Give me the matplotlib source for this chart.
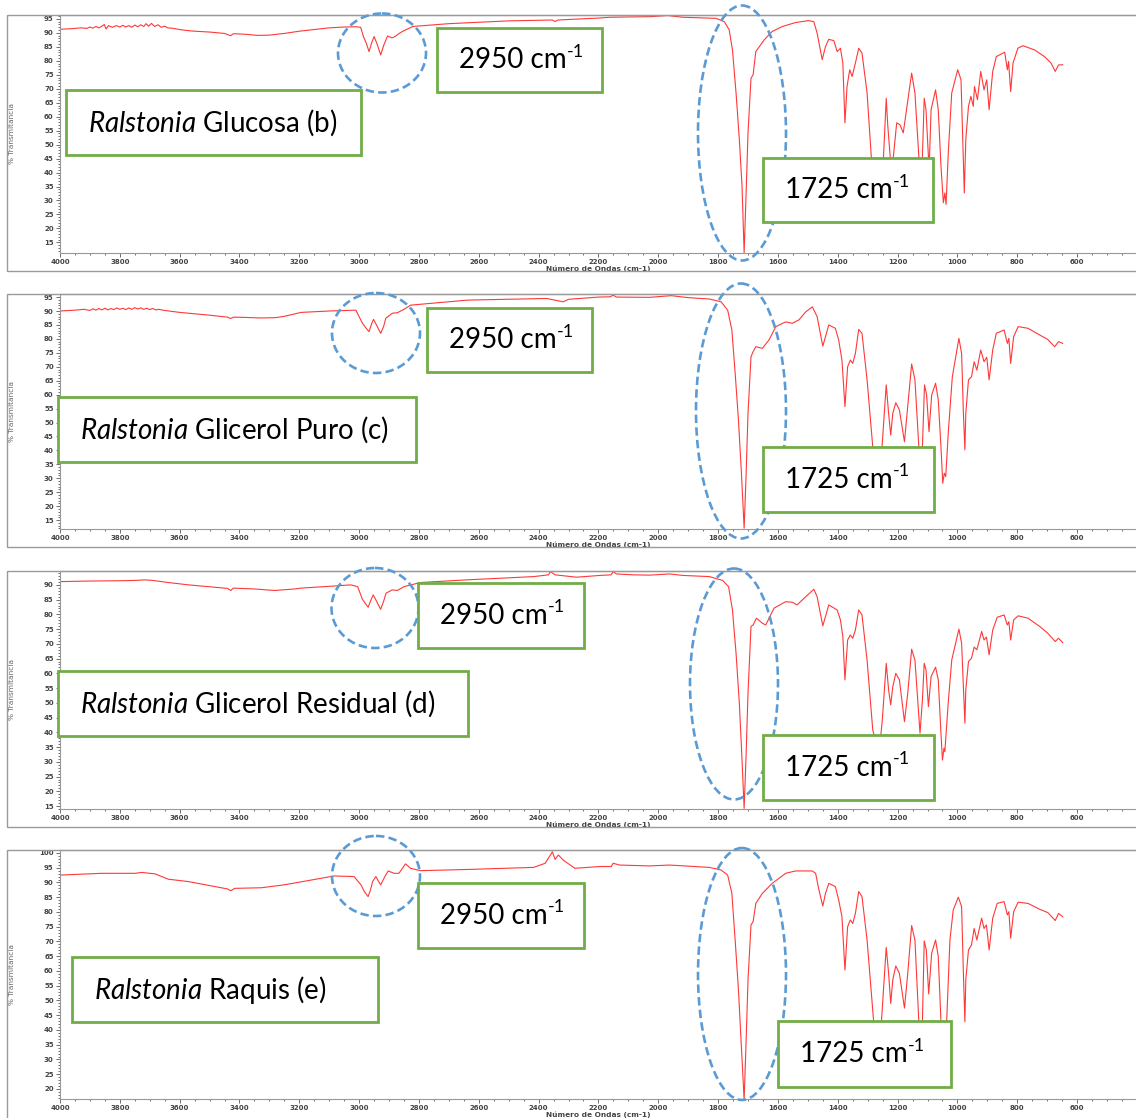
import matplotlib
matplotlib.use("Agg")
import matplotlib.pyplot as plt
from matplotlib.patches import Rectangle, Ellipse
from matplotlib.text import Annotation
from matplotlib.transforms import Affine2D
from matplotlib.ticker import MultipleLocator

plt.rcParams["mathtext.fontset"] = "custom"
plt.rcParams["mathtext.rm"] = "Lato"
plt.rcParams["mathtext.it"] = "Lato:italic"
plt.rcParams["mathtext.bf"] = "Lato:bold"

# --- spettri FTIR (numero d'onda cm-1, % trasmittanza) ---
wn_b = [4000, 3960, 3930, 3910, 3900, 3890, 3880, 3870, 3860, 3852, 3846, 3838, 3825, 3812, 3800,
        3790, 3780, 3770, 3760, 3750, 3740, 3730, 3720, 3712, 3704, 3694, 3684, 3672, 3662, 3650,
        3640, 3620, 3600, 3580, 3550, 3500, 3450, 3430, 3420, 3380, 3340, 3300, 3250, 3200, 3150,
        3100, 3050, 3010, 2995, 2985, 2975, 2967, 2958, 2950, 2940, 2928, 2918, 2905, 2890, 2880,
        2865, 2850, 2820, 2700, 2600, 2500, 2400, 2355, 2345, 2335, 2300, 2200, 2160, 2100, 2029,
        1968, 1918, 1807, 1779, 1763, 1752, 1740, 1729, 1720, 1713, 1707, 1700, 1690, 1683, 1674,
        1646, 1619, 1585, 1541, 1497, 1480, 1469, 1452, 1441, 1430, 1413, 1402, 1391, 1383, 1376,
        1369, 1360, 1352, 1341, 1330, 1319, 1302, 1288, 1276, 1260, 1247, 1238, 1233, 1222, 1214,
        1203, 1192, 1181, 1170, 1153, 1142, 1129, 1124, 1117, 1111, 1105, 1097, 1094, 1088, 1073,
        1064, 1055, 1047, 1042, 1038, 1030, 1019, 999, 988, 983, 977, 972, 963, 955, 947,
        943, 933, 922, 911, 902, 894, 882, 870, 842, 833, 829, 822, 814, 798, 781,
        742, 709, 687, 673, 662, 648]
t_b = [91.3, 91.5, 91.8, 91.6, 92.1, 91.7, 92.3, 91.8, 92.4, 93.0, 91.4, 92.6, 92.0, 92.6, 92.1,
       92.7, 92.1, 92.6, 92.0, 92.8, 92.2, 92.9, 92.3, 93.3, 92.4, 93.4, 92.3, 92.9, 92.0, 92.4,
       91.8, 91.6, 91.2, 90.9, 90.6, 90.3, 89.8, 89.0, 89.7, 89.5, 89.1, 89.2, 89.8, 90.6, 91.2,
       91.8, 92.1, 92.2, 92.0, 88.5, 86.0, 83.3, 86.5, 88.7, 86.0, 82.1, 85.5, 88.9, 88.2, 88.7,
       89.9, 90.8, 92.3, 93.3, 93.8, 94.3, 94.5, 94.6, 94.1, 94.6, 94.8, 95.3, 95.6, 95.7, 95.8,
       96.2, 95.6, 95.2, 94.0, 91.1, 83.9, 68.5, 51.8, 35.1, 11.3, 30.4, 54.2, 73.8, 75.0, 83.3,
       87.5, 90.5, 92.3, 93.7, 94.4, 94.0, 89.9, 80.4, 85.1, 87.7, 87.2, 83.3, 84.5, 79.2, 57.8,
       70.8, 76.8, 74.4, 79.2, 84.5, 82.8, 68.5, 45.8, 38.0, 40.0, 45.8, 66.6, 57.1, 42.0, 45.8,
       57.8, 57.1, 54.2, 62.5, 75.6, 68.5, 45.8, 40.0, 45.8, 66.6, 62.5, 45.8, 43.0, 62.5, 69.6,
       62.5, 42.3, 29.2, 32.7, 28.6, 48.2, 68.5, 76.8, 73.2, 54.2, 32.7, 51.8, 63.7, 67.3, 63.7,
       70.8, 66.1, 76.2, 69.6, 73.2, 62.5, 76.2, 81.5, 83.1, 76.8, 79.8, 69.0, 79.2, 84.5, 85.4,
       83.9, 81.5, 79.2, 76.2, 78.5, 78.6]

wn_c = [4000, 3950, 3920, 3900, 3890, 3880, 3870, 3860, 3850, 3840, 3830, 3820, 3810, 3800, 3790,
        3780, 3770, 3760, 3750, 3740, 3730, 3720, 3710, 3700, 3690, 3680, 3670, 3650, 3620, 3600,
        3550, 3500, 3440, 3430, 3420, 3380, 3330, 3280, 3250, 3194, 3100, 3011, 2989, 2978, 2967,
        2958, 2952, 2942, 2928, 2918, 2911, 2889, 2872, 2850, 2828, 2700, 2639, 2500, 2373, 2340,
        2318, 2300, 2200, 2160, 2151, 2140, 2029, 1957, 1900, 1829, 1790, 1768, 1754, 1743, 1732,
        1722, 1713, 1707, 1700, 1690, 1683, 1674, 1652, 1630, 1607, 1574, 1552, 1530, 1507, 1485,
        1469, 1450, 1430, 1408, 1397, 1386, 1376, 1367, 1358, 1350, 1341, 1330, 1319, 1302, 1283,
        1275, 1260, 1252, 1238, 1230, 1223, 1216, 1206, 1194, 1177, 1166, 1153, 1142, 1129, 1124,
        1117, 1110, 1103, 1095, 1086, 1073, 1064, 1055, 1049, 1044, 1039, 1030, 1017, 995, 986,
        980, 975, 972, 963, 953, 944, 935, 922, 911, 902, 894, 882, 870, 844, 833,
        828, 822, 812, 797, 764, 725, 698, 675, 662, 648]
t_c = [90.0, 90.3, 90.6, 90.2, 90.8, 90.3, 90.9, 90.4, 91.0, 90.4, 90.9, 90.5, 91.1, 90.6, 91.0,
       90.5, 91.1, 90.6, 91.2, 90.7, 91.1, 90.6, 91.0, 90.5, 90.9, 90.4, 90.6, 90.2, 89.8, 89.5,
       89.0, 88.5, 87.8, 87.3, 87.8, 87.7, 87.5, 87.6, 88.1, 89.5, 90.0, 90.3, 85.6, 84.0, 82.6,
       85.5, 87.0, 85.0, 82.0, 84.5, 87.4, 89.2, 89.4, 90.6, 92.1, 93.3, 93.9, 94.2, 94.5, 93.8,
       93.3, 94.2, 95.0, 95.1, 95.7, 95.0, 94.9, 95.5, 94.8, 94.3, 93.3, 90.3, 83.2, 67.7, 50.9,
       31.8, 12.1, 29.4, 53.3, 73.6, 75.4, 77.2, 76.6, 79.6, 84.4, 86.1, 85.6, 86.8, 89.7, 91.5,
       88.0, 77.4, 85.0, 83.8, 79.6, 72.4, 55.7, 70.0, 72.4, 71.2, 74.8, 83.4, 82.0, 65.3, 41.3,
       37.0, 39.0, 41.3, 63.5, 53.3, 45.5, 53.3, 57.1, 54.5, 43.1, 55.7, 71.0, 65.3, 41.3, 38.0,
       41.3, 63.5, 59.9, 46.7, 59.9, 64.1, 58.1, 41.3, 28.2, 31.8, 30.6, 47.3, 66.4, 80.2, 74.8,
       53.3, 40.2, 53.3, 65.3, 66.4, 71.8, 68.8, 76.0, 71.8, 73.4, 65.3, 76.0, 82.0, 83.2, 78.4,
       80.2, 71.2, 80.8, 84.4, 83.8, 81.4, 79.8, 77.2, 79.0, 78.4]

wn_d = [4000, 3900, 3800, 3750, 3716, 3690, 3638, 3571, 3483, 3440, 3429, 3421, 3350, 3283, 3216,
        3194, 3100, 3028, 3005, 2989, 2978, 2970, 2960, 2953, 2942, 2928, 2918, 2910, 2889, 2872,
        2850, 2795, 2639, 2417, 2367, 2360, 2345, 2273, 2195, 2157, 2151, 2140, 2085, 2029, 1962,
        1918, 1829, 1785, 1765, 1752, 1740, 1729, 1720, 1713, 1707, 1700, 1690, 1683, 1672, 1652,
        1641, 1613, 1574, 1552, 1536, 1507, 1480, 1469, 1450, 1430, 1402, 1391, 1383, 1376, 1367,
        1358, 1350, 1341, 1330, 1319, 1302, 1283, 1272, 1256, 1251, 1238, 1230, 1223, 1216, 1206,
        1194, 1177, 1166, 1153, 1142, 1125, 1117, 1111, 1105, 1097, 1088, 1073, 1064, 1055, 1050,
        1045, 1042, 1030, 1019, 995, 986, 980, 975, 972, 963, 953, 944, 935, 919, 911,
        903, 894, 882, 867, 844, 833, 828, 822, 812, 797, 764, 725, 698, 673, 662, 648]
t_d = [91.1, 91.3, 91.4, 91.5, 91.7, 91.5, 90.8, 90.0, 89.2, 88.8, 88.1, 88.9, 88.6, 88.1, 88.6,
       88.9, 89.5, 90.0, 89.4, 85.1, 83.5, 82.4, 85.0, 86.6, 84.5, 81.7, 84.5, 87.2, 88.3, 88.1,
       89.4, 90.8, 91.7, 92.8, 93.4, 94.5, 93.4, 92.6, 93.2, 93.4, 94.5, 93.7, 93.4, 93.3, 93.7,
       93.2, 92.8, 91.5, 89.4, 81.5, 66.8, 49.9, 30.6, 14.2, 30.6, 53.3, 75.9, 76.4, 78.7, 77.0,
       76.4, 82.1, 84.3, 84.1, 83.2, 86.0, 88.5, 86.0, 76.1, 83.2, 81.5, 78.1, 72.5, 57.8, 71.3,
       73.0, 71.9, 74.7, 81.5, 79.8, 64.5, 40.8, 36.5, 39.1, 44.2, 63.4, 54.4, 49.3, 55.5, 60.0,
       57.8, 43.6, 53.3, 68.2, 64.5, 39.7, 51.0, 63.4, 61.2, 48.7, 58.9, 62.1, 57.8, 39.7, 30.6,
       34.6, 33.4, 51.0, 64.5, 75.0, 70.2, 55.5, 43.1, 54.4, 64.0, 65.1, 68.9, 68.0, 74.2, 71.3,
       72.3, 66.3, 74.7, 79.0, 79.8, 76.4, 77.5, 71.3, 78.1, 79.5, 78.7, 75.9, 73.6, 70.8, 71.9, 70.4]

wn_e = [4000, 3860, 3749, 3727, 3682, 3638, 3571, 3483, 3440, 3429, 3416, 3327, 3250, 3194, 3083,
        3017, 2994, 2982, 2970, 2962, 2955, 2944, 2936, 2928, 2915, 2903, 2883, 2867, 2845, 2828,
        2795, 2639, 2417, 2378, 2354, 2345, 2334, 2318, 2279, 2195, 2157, 2151, 2129, 2029, 1962,
        1829, 1790, 1768, 1754, 1743, 1732, 1722, 1713, 1707, 1700, 1690, 1683, 1674, 1652, 1619,
        1574, 1541, 1485, 1474, 1463, 1450, 1441, 1430, 1408, 1397, 1386, 1376, 1367, 1358, 1350,
        1341, 1330, 1319, 1302, 1280, 1272, 1254, 1238, 1230, 1223, 1216, 1206, 1194, 1177, 1166,
        1153, 1142, 1129, 1124, 1117, 1111, 1104, 1096, 1086, 1073, 1064, 1055, 1046, 1036, 1025,
        1014, 997, 986, 980, 975, 972, 963, 953, 944, 935, 919, 911, 903, 894, 882,
        867, 844, 833, 828, 822, 812, 797, 764, 725, 698, 673, 662, 648]
t_e = [92.5, 93.1, 93.1, 93.4, 92.9, 91.1, 90.3, 88.6, 87.8, 87.2, 88.0, 88.2, 89.2, 90.2, 92.2,
       92.0, 89.2, 86.8, 85.2, 87.5, 90.3, 92.0, 90.5, 89.2, 91.8, 93.9, 93.1, 93.1, 96.3, 94.8,
       94.0, 94.4, 95.1, 96.5, 100.4, 97.8, 99.3, 97.6, 94.8, 95.4, 95.4, 96.5, 95.9, 95.6, 95.9,
       95.1, 94.2, 92.5, 86.3, 70.5, 53.6, 34.3, 16.3, 34.3, 57.0, 75.6, 76.7, 82.9, 86.3, 89.7,
       93.1, 93.9, 93.9, 93.1, 87.5, 82.0, 86.3, 89.7, 88.6, 84.1, 78.4, 60.3, 75.0, 77.3, 76.1,
       79.5, 86.9, 85.2, 70.5, 42.8, 39.0, 42.8, 68.0, 59.2, 49.0, 57.0, 61.7, 59.2, 47.4, 59.2,
       75.4, 70.5, 42.8, 39.0, 42.8, 70.2, 67.1, 52.2, 66.0, 70.5, 64.9, 42.8, 36.0, 42.8, 70.5,
       80.7, 85.0, 81.8, 59.2, 42.8, 57.0, 67.1, 68.8, 74.4, 70.5, 77.9, 74.4, 75.6, 67.1, 77.9,
       82.9, 83.5, 79.0, 80.1, 71.1, 80.1, 83.3, 82.9, 80.9, 79.8, 77.1, 79.5, 78.4]

names = ["Glucosa (b)", "Glicerol Puro (c)", "Glicerol Residual (d)", "Raquis (e)"]
peaks = ["2950", "1725"]
x_ticks = list(range(4000, 599, -200))

# --- impaginazione (pixel dell'immagine, y dall'alto) ---
W, H = 1136, 1118
layout = [
    dict(wn=wn_b, t=t_b, ylim=(11.2, 96.4), ytop=95, ax=(15, 253), fbot=271,
         name=(66, 90, 361, 155), b2950=(437, 28, 602, 92), b1725=(763, 158, 933, 222),
         e2950=(382, 53, 88, 79), e1725=(742, 133, 88, 255)),
    dict(wn=wn_c, t=t_c, ylim=(11.8, 96.1), ytop=95, ax=(294, 529), fbot=547,
         name=(58, 397, 416, 462), b2950=(427, 308, 592, 372), b1725=(763, 447, 934, 512),
         e2950=(376, 333, 88, 80), e1725=(741, 411, 90, 255)),
    dict(wn=wn_d, t=t_d, ylim=(14.0, 94.7), ytop=90, ax=(571, 809), fbot=827,
         name=(58, 671, 468, 736), b2950=(418, 583, 584, 648), b1725=(763, 735, 934, 800),
         e2950=(375, 608, 87, 80), e1725=(734, 684, 88, 231)),
    dict(wn=wn_e, t=t_e, ylim=(16.6, 101.0), ytop=100, ax=(850, 1099), fbot=1125,
         name=(72, 957, 378, 1022), b2950=(418, 883, 584, 948), b1725=(778, 1021, 951, 1087),
         e2950=(376, 876, 88, 80), e1725=(742, 974, 88, 252)),
]

GREEN = "#70ad47"
BLUE = "#5b9bd5"
FS = 20

fig = plt.figure(figsize=(W / 100, H / 100), dpi=100)
px = Affine2D().scale(1 / W, -1 / H).translate(0, 1) + fig.transFigure


def box(x0, y0, x1, y1, label, sup=None):
    fig.add_artist(Rectangle((x0, y0), x1 - x0, y1 - y0, transform=px, facecolor="white",
                             edgecolor=GREEN, lw=2.0, zorder=6))
    t = fig.text((x0 + 22) / W, 1 - (y0 + y1) / 2 / H, label, va="center", ha="left",
                 zorder=7, family="Lato", fontsize=FS, color="black")
    if sup:
        # esponente "-1" attaccato in alto a destra del testo
        fig.add_artist(Annotation(sup, xy=(1.0, 1.13), xycoords=t, ha="left", va="top",
                                  family="Lato", fontsize=13, color="black", zorder=7,
                                  annotation_clip=False))


def ellipse(cx, cy, w, h):
    fig.add_artist(Ellipse((cx, cy), w, h, transform=px, fill=False, edgecolor=BLUE,
                           lw=1.9, linestyle=(0, (3.2, 1.6)), zorder=5))


for p, name in zip(layout, names):
    top, bot = p["ax"]
    ax = fig.add_axes([60 / W, 1 - bot / H, (W - 60) / W, (bot - top) / H])
    ax.plot(p["wn"], p["t"], color="#ff3838", lw=0.8)
    ax.set_xlim(4000, 403)
    ax.set_ylim(*p["ylim"])
    ax.set_xticks(x_ticks)
    ax.set_yticks(range(20 if p["ytop"] == 100 else 15, p["ytop"] + 1, 5))
    ax.xaxis.set_minor_locator(MultipleLocator(50))
    ax.yaxis.set_minor_locator(MultipleLocator(1))
    ax.tick_params(which="both", labelsize=5, colors="#555", labelcolor="#444", width=0.6, pad=1.5)
    ax.tick_params(which="major", length=3)
    ax.tick_params(which="minor", length=1.5)
    for lab in ax.get_xticklabels() + ax.get_yticklabels():
        lab.set_fontweight("bold")
    ax.spines["right"].set_visible(False)
    ax.spines["top"].set_color("#555")
    ax.spines["left"].set_color("#999")
    ax.spines["bottom"].set_color("#999")
    ax.set_xlabel("Número de Ondas (cm-1)", fontsize=5.3, color="#444", labelpad=0.5, fontweight="bold")
    ax.set_ylabel("% Transmitancia", fontsize=5.3, color="#666", family="Liberation Sans Narrow")
    ax.yaxis.set_label_coords(-45 / (W - 60), 0.5)

    # cornice grigia del pannello
    fig.add_artist(Rectangle((7, top), W + 10, p["fbot"] - top, transform=px, fill=False,
                             edgecolor="#9a9a9a", lw=1.0, zorder=1))

    ellipse(*p["e2950"])
    ellipse(*p["e1725"])
    box(*p["name"], r"$\mathit{Ralstonia}$ " + name)
    box(*p["b2950"], peaks[0] + " cm", "-1")
    box(*p["b1725"], peaks[1] + " cm", "-1")

fig.savefig("out.png", dpi=100)
